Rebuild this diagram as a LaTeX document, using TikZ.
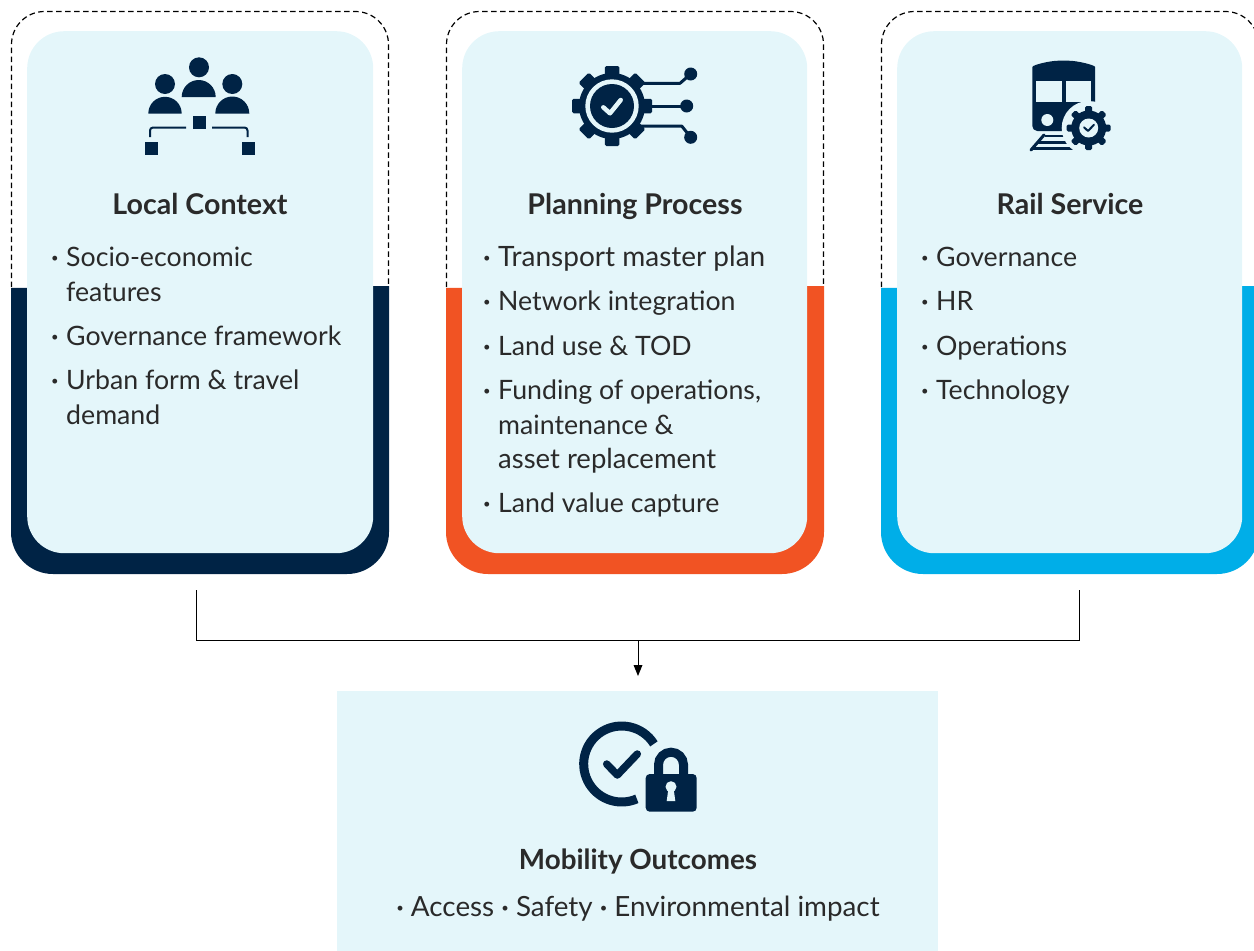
\documentclass[tikz,border=0pt]{standalone}
\usepackage{fontspec}
\setmainfont{Lato}
\definecolor{navy}{HTML}{002345}
\definecolor{orangec}{HTML}{F15323}
\definecolor{cyanc}{HTML}{00AEE8}
\definecolor{pale}{HTML}{E4F6FA}
\definecolor{ink}{HTML}{2A2A2A}
\tikzset{
  titletext/.style={anchor=base,inner sep=0,text=ink,font=\fontsize{28.6}{32}\selectfont\bfseries},
  itemtext/.style={anchor=base west,inner sep=0,text=ink,font=\fontsize{26.7}{30}\selectfont},
  dashframe/.style={draw=black,line width=1.2pt,dash pattern=on 5.5pt off 3.5pt,rounded corners=33pt},
  innercard/.style={fill=pale,rounded corners=37pt},
  thinline/.style={draw=black,line width=1pt},
  iconline/.style={draw=navy,line cap=round,line join=round},
}
\newcommand{\dotb}{\raisebox{3.5pt}{\fontsize{13}{13}\selectfont•}}
\newcommand{\bul}{\makebox[15pt][l]{\dotb}}
\newcommand{\cardbase}[3]{
  \fill[#3] (#1,288) -- (#1,532) arc[start angle=180,end angle=90,radius=42] -- ({#2-42},574) arc[start angle=90,end angle=0,radius=42] -- (#2,286) -- cycle;
  \draw[dashframe] (#1+0.5,287) -- (#1+0.5,11.5) -- (#2-0.5,11.5) -- (#2-0.5,287);
}
\newcommand{\gearshape}[5]{% cx cy outer-r tooth-w body-r
  \begin{scope}[shift={(#1,#2)}]
    \foreach \a in {0,45,...,315}{
      \fill[navy,rotate=\a,rounded corners=1.5pt] (-#4/2,-#3) rectangle (#4/2,0);
    }
    \fill[navy] (0,0) circle (#5);
  \end{scope}
}
\begin{document}
\begin{tikzpicture}[x=1pt,y=-1pt]
\path[use as bounding box] (0,0) rectangle (1254,951);
\clip (0,0) rectangle (1254,951);

\cardbase{11}{389}{navy}
\cardbase{446}{824}{orangec}
\cardbase{881}{1259}{cyanc}
\node[innercard,minimum width=346pt,minimum height=522pt,inner sep=0,anchor=north west] (cardA) at (27,31) {};
\node[innercard,minimum width=345pt,minimum height=522pt,inner sep=0,anchor=north west] (cardB) at (462,31) {};
\node[innercard,minimum width=345pt,minimum height=522pt,inner sep=0,anchor=north west] (cardC) at (897,31) {};
\node[fill=pale,minimum width=601pt,minimum height=260pt,inner sep=0,anchor=north west] (outcome) at (337,691) {};

% connectors
\coordinate (fromA) at (196.5,590);
\coordinate (fromC) at (1079,590);
\coordinate (joinA) at (196.5,640.5);
\coordinate (joinC) at (1079,640.5);
\coordinate (joinM) at (638,640.5);
\coordinate (toOut) at (638,676);
\draw[thinline] (fromA) -- (joinA) -- (joinC) -- (fromC);
\fill[black] (toOut) -- (633.5,665) -- (642.5,665) -- cycle;
\draw[thinline] (joinM) -- (638,666);

% titles
\node[titletext] (tA) at (200,214) {Local Context};
\node[titletext] (tB) at (635,214) {Planning Process};
\node[titletext] (tC) at (1070,214) {Rail Service};
\node[titletext,font=\fontsize{27.8}{32}\selectfont\bfseries] (tD) at (638,869) {Mobility Outcomes};

% card A
\node[itemtext] (a1) at (51,266) {\bul Socio-economic};
\node[itemtext] (a1b) at (66,301) {features};
\node[itemtext] (a2) at (51,345) {\bul Governance framework};
\node[itemtext] (a3) at (51,389) {\bul Urban form \& travel};
\node[itemtext] (a3b) at (66,424) {demand};
% card B
\node[itemtext,font=\fontsize{28}{30}\selectfont] (b1) at (483,266) {\bul Transport master plan};
\node[itemtext] (b2) at (483,310) {\bul Network integration};
\node[itemtext] (b3) at (483,355) {\bul Land use \& TOD};
\node[itemtext] (b4) at (483,399) {\bul Funding of operations,};
\node[itemtext] (b4b) at (498,434) {maintenance \&};
\node[itemtext,font=\fontsize{27.5}{30}\selectfont] (b4c) at (498,468) {asset replacement};
\node[itemtext] (b5) at (483,512) {\bul Land value capture};
% card C
\node[itemtext] (c1) at (921,266) {\bul Governance};
\node[itemtext] (c2) at (921,310) {\bul HR};
\node[itemtext] (c3) at (921,355) {\bul Operations};
\node[itemtext] (c4) at (921,399) {\bul Technology};
% outcome
\node[itemtext,anchor=base,font=\fontsize{27.8}{30}\selectfont] (d1) at (638,916) {\dotb{} Access \dotb{} Safety \dotb{} Environmental impact};

% ---------- icon: people
\fill[navy] (199,67.3) circle (10);
\fill[navy] (181.7,97) arc[start angle=180,end angle=360,radius=17] -- cycle;
\fill[navy] (165,84) circle (10);
\fill[navy] (148.3,113.5) arc[start angle=180,end angle=360,radius=16.7] -- cycle;
\fill[navy] (232.3,84) circle (10);
\fill[navy] (215.3,113.5) arc[start angle=180,end angle=360,radius=17] -- cycle;
\fill[navy] (193,116) rectangle (206,129);
\fill[navy] (145,142) rectangle (158,155);
\fill[navy] (242,142) rectangle (255,155);
\draw[navy,line width=2pt,rounded corners=3pt] (186,127.5) -- (150,127.5) -- (150,137);
\draw[navy,line width=2pt,rounded corners=3pt] (212,127.5) -- (247.5,127.5) -- (247.5,137);

% ---------- icon: gear + circuit
\draw[iconline,line width=3pt] (640,83.3) -- (680,83.3) -- (690.7,74);
\draw[iconline,line width=3pt] (640,106) -- (686.7,106);
\draw[iconline,line width=3pt] (640,126) -- (681.7,126) -- (690.7,137.3);
\fill[navy] (690.7,74) circle (6.5);
\fill[navy] (686.7,106) circle (6.5);
\fill[navy] (690.7,137.3) circle (6.5);
\gearshape{612}{106}{40}{14.5}{33}
\fill[pale] (612,106) circle (26.7);
\fill[navy] (612,106) circle (22);
\draw[draw=pale,line width=4.5pt,line cap=round,line join=round] (603.3,107.3) -- (610,113.3) -- (620.7,100);

% ---------- icon: train + gear
\fill[navy,rounded corners=5pt] (1032.3,131) -- (1032.3,72) .. controls (1032.3,65) and (1050,60.7) .. (1063.6,60.7) .. controls (1077,60.7) and (1095,65) .. (1095,72) -- (1095,131) -- cycle;
\fill[pale] (1036.3,81) rectangle (1061.7,101.7);
\fill[pale] (1065.7,81) rectangle (1091,101.7);
\fill[pale] (1047.3,120) circle (6);
\draw[iconline,line width=3pt] (1031,150) -- (1044,135);
\draw[navy,line width=2.5pt] (1045,136) -- (1066,136);
\draw[navy,line width=2.5pt] (1038,142.5) -- (1068,142.5);
\draw[navy,line width=2.5pt] (1033,148.5) -- (1074,148.5);
\fill[pale] (1088.7,128) circle (27);
\gearshape{1088.7}{128}{22}{7}{17.5}
\fill[pale] (1088.7,128) circle (9.5);
\draw[iconline,line width=2pt] (1084,127.3) -- (1088,131) -- (1094,124.7);

% ---------- icon: check + lock
\draw[navy,line width=9pt] (621.7,764) ++(-32:38) arc[start angle=-32,end angle=-293.5,radius=38];
\draw[iconline,line width=7.5pt] (606.7,764) -- (617.3,775) -- (637.3,754);
\draw[navy,line width=9pt] (658.5,776) -- (658.5,764.7) arc[start angle=180,end angle=360,radius=12.5] -- (683.5,776);
\fill[navy,rounded corners=4pt] (645.7,774) rectangle (696.7,811.7);
\fill[pale] (671,786.7) circle (5.5);
\fill[pale] (668.5,788) -- (666.7,801) -- (675.3,801) -- (673.5,788) -- cycle;
\end{tikzpicture}
\end{document}
